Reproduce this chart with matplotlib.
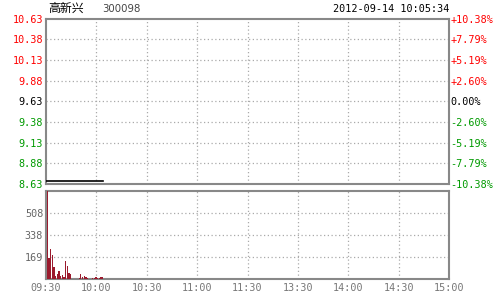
import numpy as np
import matplotlib
matplotlib.use('Agg')
from matplotlib import pyplot as plt

# stock header
name = '高新兴'
code = '300098'
stamp = '2012-09-14 10:05:34'

prev_close = 9.63
price_ticks = [10.63, 10.38, 10.13, 9.88, 9.63, 9.38, 9.13, 8.88, 8.63]
pct_labels = ['+10.38%', '+7.79%', '+5.19%', '+2.60%', '0.00%',
              '-2.60%', '-5.19%', '-7.79%', '-10.38%']
vol_ticks = [169, 338, 508]
vol_top = 677
time_labels = ['09:30', '10:00', '10:30', '11:00', '11:30',
               '13:30', '14:00', '14:30', '15:00']

# minute data (stuck at limit down)
price = [8.67, 8.67, 8.67, 8.67, 8.67, 8.67, 8.67, 8.67, 8.67, 8.67,
         8.67, 8.67, 8.67, 8.67, 8.67, 8.67, 8.67, 8.67, 8.67, 8.67,
         8.67, 8.67, 8.67, 8.67, 8.67, 8.67, 8.67, 8.67, 8.67, 8.67,
         8.67, 8.67, 8.67, 8.67, 8.67]
volume = [700, 161, 230, 185, 95, 20, 38, 62, 25, 31,
          15, 138, 100, 46, 40, 0, 0, 0, 0, 10,
          38, 15, 23, 15, 10, 0, 0, 8, 8, 15,
          10, 8, 17, 17, 0]

RED = '#ff0000'
GREEN = '#009a00'
FRAME = '#888888'
GRID = '#aaaaaa'
MONO = 'DejaVu Sans Mono'

fig = plt.figure(figsize=(5, 3), dpi=100)
ax = fig.add_axes([0.092, 0.387, 0.806, 0.551])
axv = fig.add_axes([0.092, 0.07, 0.806, 0.294])

xt = np.arange(0, 241, 30)

def frame(a):
    for s in a.spines.values():
        s.set_color(FRAME)
        s.set_linewidth(1.5)
        s.set_zorder(1)
    a.set_xlim(0, 240)
    for x in xt[1:-1]:
        a.axvline(x, color=GRID, lw=0.9, ls=(0, (1, 2)), zorder=0)

# price panel
frame(ax)
ax.set_ylim(price_ticks[-1], price_ticks[0])
for y in price_ticks[1:-1]:
    ax.axhline(y, color=GRID, lw=0.9, ls=(0, (1, 2)), zorder=0)
ax.plot(np.arange(len(price)), price, color='black', lw=1.2)
ax.set_xticks([])
ax.set_yticks(price_ticks)
ax.set_yticklabels(['%.2f' % p for p in price_ticks], family=MONO, fontsize=7.3)
ax.tick_params(axis='y', length=0, pad=2)
for lab, p in zip(ax.get_yticklabels(), price_ticks):
    lab.set_color(RED if p > prev_close else GREEN if p < prev_close else 'black')

axr = ax.twinx()
axr.set_ylim(ax.get_ylim())
axr.set_yticks(price_ticks)
axr.set_yticklabels(pct_labels, family=MONO, fontsize=7.3)
axr.tick_params(axis='y', length=0, pad=1)
for s in axr.spines.values():
    s.set_visible(False)
for lab, p in zip(axr.get_yticklabels(), price_ticks):
    lab.set_color(RED if p > prev_close else GREEN if p < prev_close else 'black')

# volume panel
frame(axv)
axv.set_ylim(0, vol_top)
for y in vol_ticks:
    axv.axhline(y, color=GRID, lw=0.9, ls=(0, (1, 2)), zorder=0)
axv.bar(np.arange(len(volume)) + 0.75, volume, width=0.75, color='#9b1b2e',
        linewidth=0, zorder=3)
axv.set_yticks(vol_ticks)
axv.set_yticklabels([str(v) for v in vol_ticks], family=MONO, fontsize=7.3, color='#666666')
axv.set_xticks(xt)
axv.set_xticklabels(time_labels, family=MONO, fontsize=7.3, color='#777777')
axv.tick_params(length=0, pad=3)
axv.tick_params(axis='y', pad=2)

# header
fig.text(0.096, 0.95, name, family=['Noto Sans CJK SC', 'DejaVu Sans'],
         fontsize=8.6, color='black', va='bottom')
fig.text(0.204, 0.952, code, family='DejaVu Sans', fontsize=7.3,
         color='#444444', va='bottom')
fig.text(0.898, 0.952, stamp, family=MONO, fontsize=7.3, color='black',
         ha='right', va='bottom')

fig.savefig('out.png', dpi=100)
